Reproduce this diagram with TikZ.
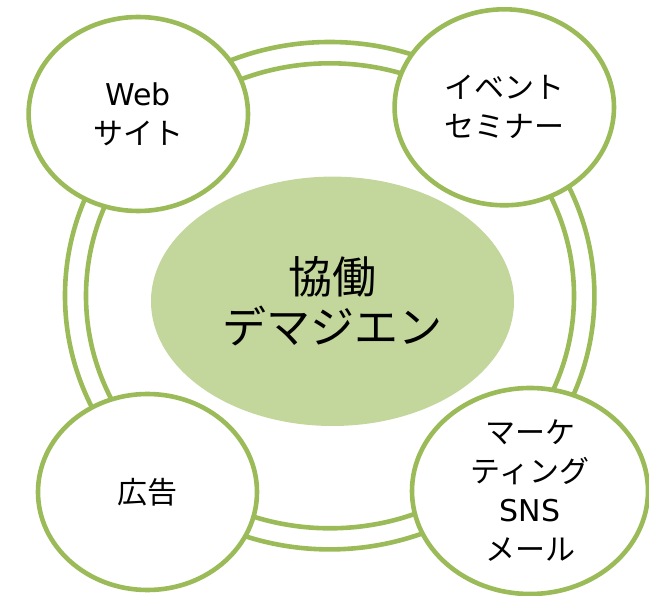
\documentclass[tikz,border=0pt]{standalone}
\usepackage{fontspec}
\newfontfamily\jp{Noto Sans CJK JP}
\newfontfamily\lat{DejaVu Sans}
\usetikzlibrary{shapes.geometric}
\definecolor{ringgreen}{HTML}{9BBB59}
\definecolor{corefill}{HTML}{C3D69B}
\tikzset{
  ringline/.style={draw=ringgreen, line width=4.6pt, fill=none},
  topic/.style={ellipse, draw=ringgreen, line width=4.6pt, fill=white, inner sep=0pt,
    align=center, font=\jp\fontsize{30}{39}\selectfont, text=black},
  core/.style={ellipse, fill=corefill, draw=none, inner sep=0pt,
    align=center, font=\jp\fontsize{44}{50}\selectfont, text=black}
}
\begin{document}
\begin{tikzpicture}[x=1pt,y=-1pt]
\useasboundingbox (0,0) rectangle (649,596);
% double ring
\node[ringline, ellipse, minimum width=529.4pt, minimum height=507.4pt, inner sep=0pt] (outerring) at (329.7,295.7) {};
\node[ringline, ellipse, minimum width=488pt, minimum height=465pt, inner sep=0pt] (innerring) at (330,295.8) {};
% core
\node[core, minimum width=363pt, minimum height=249.4pt] (core) at (332.5,301.3) {協働\\デマジエン};
% topics
\node[topic, minimum width=219.4pt, minimum height=194pt] (web) at (138.3,114) {{\lat Web}\\サイト};
\node[topic, minimum width=219.4pt, minimum height=196pt] (event) at (504.3,107.3) {イベント\\セミナー};
\node[topic, minimum width=219pt, minimum height=196pt] (ad) at (147.5,492) {広告};
\node[topic, minimum width=236pt, minimum height=206pt] (mkt) at (530,491) {マーケ\\ティング\\{\lat SNS}\\メール};
\end{tikzpicture}
\end{document}
